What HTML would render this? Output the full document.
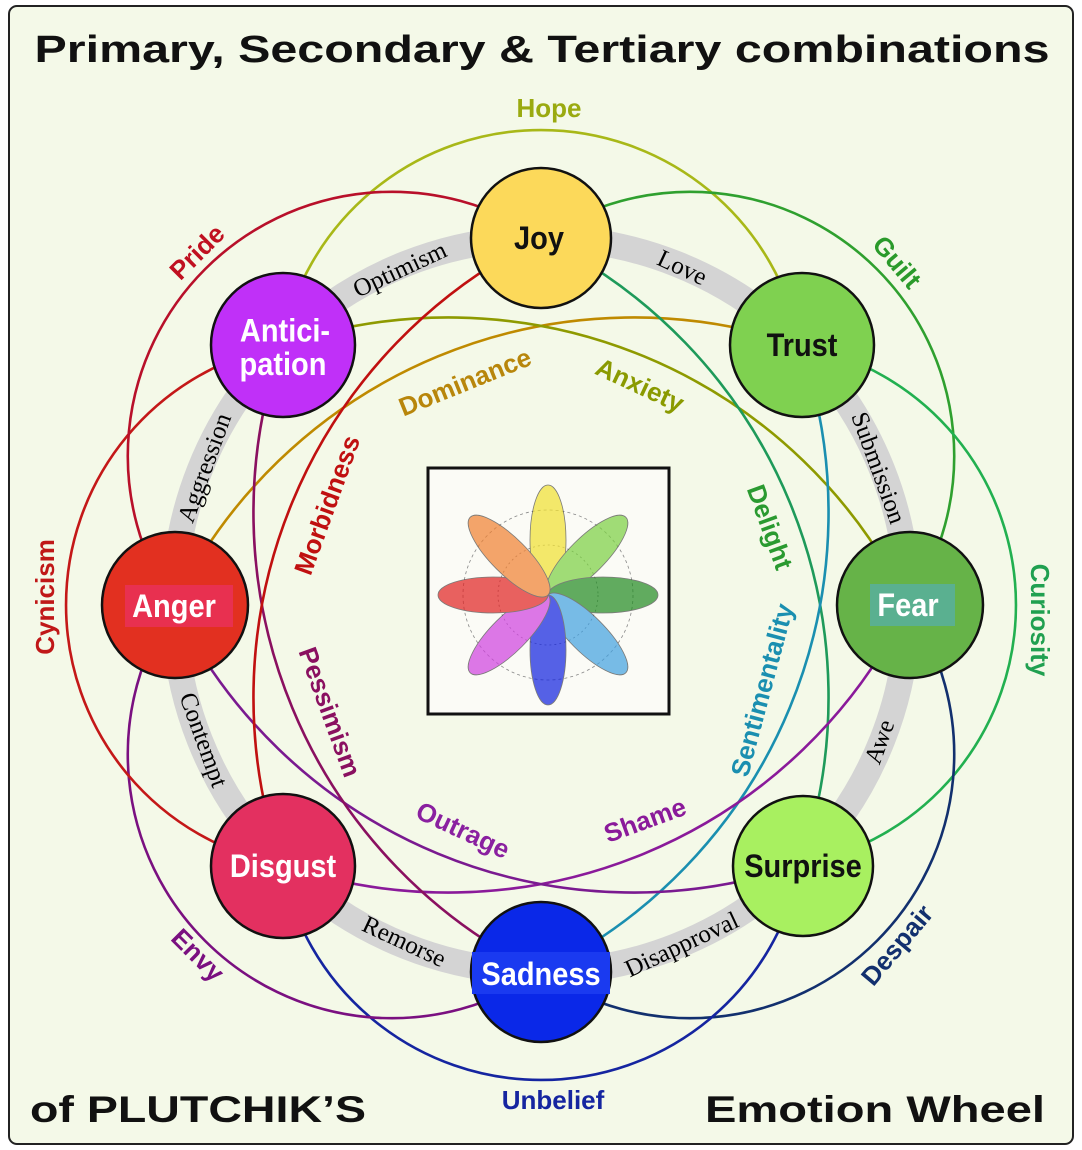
<!DOCTYPE html>
<html><head><meta charset="utf-8"><style>
html,body{margin:0;padding:0;background:#fff;}
svg{display:block;}
.lab{font-family:"Liberation Sans",sans-serif;font-weight:bold;font-size:26px;text-anchor:middle;dominant-baseline:central;}
.gl{font-family:"Liberation Serif",serif;font-size:25px;text-anchor:middle;dominant-baseline:central;fill:#000;}
.nd{font-family:"Liberation Sans",sans-serif;font-weight:bold;font-size:29px;text-anchor:middle;dominant-baseline:central;}
</style></head><body>
<svg width="1082" height="1150" viewBox="0 0 1082 1150" xmlns="http://www.w3.org/2000/svg">
<rect x="0" y="0" width="1082" height="1150" fill="#fff"/>
<rect x="9" y="6" width="1064" height="1138" rx="8" fill="#f4f9e8" stroke="#222" stroke-width="2"/>

<circle cx="541" cy="605" r="367" fill="none" stroke="#d4d4d4" stroke-width="26"/>

<g fill="none" stroke-width="2.6">
<path d="M281.5,345.5 A264,264 0 0 1 800.5,345.5" stroke="#a8b818"/>
<path d="M541,238 A264,264 0 0 1 908,605" stroke="#2fa02f"/>
<path d="M800.5,345.5 A264,264 0 0 1 800.5,864.5" stroke="#22b050"/>
<path d="M908,605 A264,264 0 0 1 541,972" stroke="#12306e"/>
<path d="M800.5,864.5 A264,264 0 0 1 281.5,864.5" stroke="#1525a0"/>
<path d="M541,972 A264,264 0 0 1 174,605" stroke="#7a1080"/>
<path d="M281.5,864.5 A264,264 0 0 1 281.5,345.5" stroke="#c41818"/>
<path d="M174,605 A264,264 0 0 1 541,238" stroke="#b8102a"/>
<path d="M174,605 A511,511 0 0 1 800.5,345.5" stroke="#bf8a00"/>
<path d="M281.5,345.5 A511,511 0 0 1 908,605" stroke="#8e9a00"/>
<path d="M541,238 A511,511 0 0 1 800.5,864.5" stroke="#1e9a5a"/>
<path d="M800.5,345.5 A511,511 0 0 1 541,972" stroke="#1a8fb0"/>
<path d="M908,605 A511,511 0 0 1 281.5,864.5" stroke="#8a1a9a"/>
<path d="M800.5,864.5 A511,511 0 0 1 174,605" stroke="#7a1a90"/>
<path d="M541,972 A511,511 0 0 1 281.5,345.5" stroke="#8a1060"/>
<path d="M281.5,864.5 A511,511 0 0 1 541,238" stroke="#c01010"/>
</g>

<text class="gl" transform="translate(400,270) rotate(-25)">Optimism</text>
<text class="gl" transform="translate(682,268) rotate(25)">Love</text>
<text class="gl" transform="translate(878,468) rotate(70)">Submission</text>
<text class="gl" transform="translate(880,742) rotate(-70)">Awe</text>
<text class="gl" transform="translate(682,945) rotate(-25)">Disapproval</text>
<text class="gl" transform="translate(404,942) rotate(25)">Remorse</text>
<text class="gl" transform="translate(203,740) rotate(70)">Contempt</text>
<text class="gl" transform="translate(205,468) rotate(-70)">Aggression</text>

<text class="lab" fill="#9aaa10" transform="translate(549,108)">Hope</text>
<text class="lab" fill="#c01020" transform="translate(197,252) rotate(-45)">Pride</text>
<text class="lab" fill="#2a9a2a" transform="translate(897,262) rotate(50)">Guilt</text>
<text class="lab" fill="#c01818" transform="translate(45,597) rotate(-90)">Cynicism</text>
<text class="lab" fill="#20a050" transform="translate(1040,620) rotate(90)">Curiosity</text>
<text class="lab" fill="#7a1080" transform="translate(198,955) rotate(45)">Envy</text>
<text class="lab" fill="#12306e" transform="translate(897,945) rotate(-50)">Despair</text>
<text class="lab" fill="#1525a0" transform="translate(553,1100)">Unbelief</text>
<text class="lab" fill="#b8860b" transform="translate(465,382) rotate(-22)">Dominance</text>
<text class="lab" fill="#8a9a00" transform="translate(640,385) rotate(25)">Anxiety</text>
<text class="lab" fill="#c01010" transform="translate(327,505) rotate(-70)">Morbidness</text>
<text class="lab" fill="#2a9a30" transform="translate(770,527) rotate(70)">Delight</text>
<text class="lab" fill="#8a1060" transform="translate(330,712) rotate(70)">Pessimism</text>
<text class="lab" fill="#1a8fb0" transform="translate(762,690) rotate(-75)">Sentimentality</text>
<text class="lab" fill="#8a20a0" transform="translate(463,830) rotate(25)">Outrage</text>
<text class="lab" fill="#8a1a9a" transform="translate(645,820) rotate(-20)">Shame</text>

<rect x="428" y="468" width="241" height="246" fill="#fbfbf6" stroke="#111" stroke-width="3"/>
<g transform="translate(548,595)" stroke="#444" stroke-width="0.8">
<circle r="85" fill="none" stroke="#888" stroke-dasharray="3,3"/>
<circle r="50" fill="none" stroke="#888" stroke-dasharray="2,3"/>
<g opacity="0.7">
<ellipse cx="0" cy="-55" rx="18" ry="55" fill="#f0e030"/>
<ellipse cx="0" cy="-55" rx="18" ry="55" fill="#7ad040" transform="rotate(45)"/>
<ellipse cx="0" cy="-55" rx="18" ry="55" fill="#208a20" transform="rotate(90)"/>
<ellipse cx="0" cy="-55" rx="18" ry="55" fill="#40a0e0" transform="rotate(135)"/>
<ellipse cx="0" cy="-55" rx="18" ry="55" fill="#1020e0" transform="rotate(180)"/>
<ellipse cx="0" cy="-55" rx="18" ry="55" fill="#d040e0" transform="rotate(225)"/>
<ellipse cx="0" cy="-55" rx="18" ry="55" fill="#e02020" transform="rotate(270)"/>
<ellipse cx="0" cy="-55" rx="18" ry="55" fill="#f08030" transform="rotate(315)"/>
</g>
</g>

<g stroke="#111" stroke-width="2.5">
<circle cx="541" cy="238" r="70" fill="#fcd95a"/>
<circle cx="802" cy="345" r="72" fill="#7fd150"/>
<circle cx="910" cy="605" r="73" fill="#66b348"/>
<circle cx="803" cy="866" r="70" fill="#a8f060"/>
<circle cx="541" cy="972" r="70" fill="#0a28e8"/>
<circle cx="283" cy="866" r="72" fill="#e33060"/>
<circle cx="175" cy="605" r="73" fill="#e23020"/>
<circle cx="283" cy="345" r="72" fill="#c030f8"/>
</g>
<rect x="125" y="585" width="108" height="42" fill="#e83050"/>
<rect x="870" y="584" width="85" height="42" fill="#5ab090"/>
<rect x="472" y="952" width="138" height="42" fill="#1a3af0"/>
<g transform="scale(1,1.12)">
<text class="nd" x="539" y="212.5" fill="#111">Joy</text>
<text class="nd" x="802" y="308" fill="#111">Trust</text>
<text class="nd" x="908" y="540" fill="#fff">Fear</text>
<text class="nd" x="803" y="773" fill="#111">Surprise</text>
<text class="nd" x="541" y="869.5" fill="#fff">Sadness</text>
<text class="nd" x="283" y="773" fill="#fff">Disgust</text>
<text class="nd" x="174" y="541" fill="#fff">Anger</text>
<text class="nd" x="285" y="295" fill="#fff" font-size="27">Antici-</text>
<text class="nd" x="283" y="325" fill="#fff" font-size="27">pation</text>
</g>

<text x="542" y="62" font-family="Liberation Sans,sans-serif" font-weight="bold" font-size="38" text-anchor="middle" fill="#111" textLength="1015" lengthAdjust="spacingAndGlyphs">Primary, Secondary &amp; Tertiary combinations</text>
<text x="30" y="1122" font-family="Liberation Sans,sans-serif" font-weight="bold" font-size="37" fill="#111" textLength="336" lengthAdjust="spacingAndGlyphs">of PLUTCHIK’S</text>
<text x="705" y="1122" font-family="Liberation Sans,sans-serif" font-weight="bold" font-size="37" fill="#111" textLength="340" lengthAdjust="spacingAndGlyphs">Emotion Wheel</text>
</svg>
</body></html>
